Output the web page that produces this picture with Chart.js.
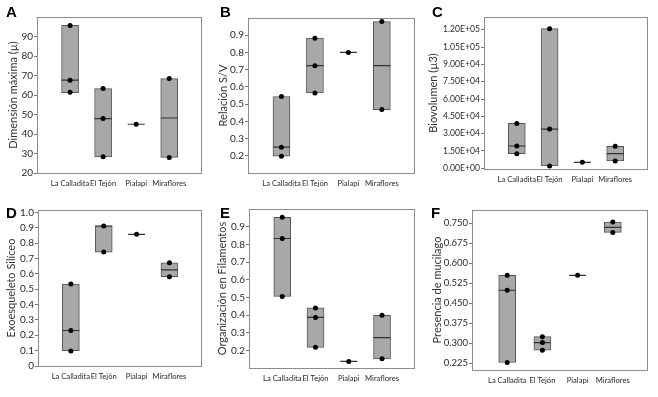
<!DOCTYPE html>
<html>
<head>
<meta charset="utf-8">
<script src="https://cdn.jsdelivr.net/npm/chart.js@4.4.1/dist/chart.umd.min.js"></script>
<style>
  html, body { margin: 0; padding: 0; background: #fff; }
  #wrap { position: relative; width: 658px; height: 397px; overflow: hidden; }
  .panel { position: absolute; }
</style>
</head>
<body>
<div id="wrap"></div>
<script>
const sites = ["La Calladita", "El Tejón", "Pialapi", "Miraflores"];

// A - Dimensión máxima
const dimMin = [61.2, 28.3, 45.0, 28.0];
const dimMed = [67.6, 47.9, 45.0, 48.2];
const dimMax = [95.7, 63.3, 45.0, 68.4];
const dimPts = [[95.7, 67.6, 61.4], [63.3, 47.9, 28.3], [45.0], [68.4, 27.9]];
const dimTicks = [20, 30, 40, 50, 60, 70, 80, 90];

// B - Relación S/V
const svMin = [0.197, 0.565, 0.800, 0.468];
const svMed = [0.250, 0.723, 0.800, 0.723];
const svMax = [0.544, 0.883, 0.800, 0.979];
const svPts = [[0.544, 0.250, 0.197], [0.883, 0.723, 0.565], [0.800], [0.979, 0.468]];
const svTicks = [0.2, 0.3, 0.4, 0.5, 0.6, 0.7, 0.8, 0.9];

// C - Biovolumen
const bioMin = [12700, 2000, 5200, 6300];
const bioMed = [19300, 34000, 5200, 12700];
const bioMax = [38900, 120900, 5200, 19000];
const bioPts = [[38900, 19300, 12700], [120900, 34000, 2000], [5200], [19000, 6300]];
const bioTicks = [0, 15000, 30000, 45000, 60000, 75000, 90000, 105000, 120000];

// D - Exoesqueleto Silíceo
const silMin = [0.099, 0.741, 0.857, 0.581];
const silMed = [0.231, 0.911, 0.857, 0.626];
const silMax = [0.533, 0.911, 0.857, 0.672];
const silPts = [[0.533, 0.231, 0.097], [0.911, 0.741], [0.857], [0.672, 0.581]];
const silTicks = [0, 0.1, 0.2, 0.3, 0.4, 0.5, 0.6, 0.7, 0.8, 0.9, 1.0];

// E - Organización en Filamentos
const filMin = [0.505, 0.217, 0.137, 0.152];
const filMed = [0.833, 0.386, 0.137, 0.272];
const filMax = [0.953, 0.440, 0.137, 0.398];
const filPts = [[0.953, 0.833, 0.505], [0.440, 0.386, 0.217], [0.137], [0.398, 0.152]];
const filTicks = [0.2, 0.3, 0.4, 0.5, 0.6, 0.7, 0.8, 0.9];

// F - Presencia de mucilago
const mucMin = [0.228, 0.274, 0.555, 0.716];
const mucMed = [0.499, 0.303, 0.555, 0.735];
const mucMax = [0.555, 0.325, 0.555, 0.755];
const mucPts = [[0.555, 0.499, 0.228], [0.325, 0.303, 0.274], [0.555], [0.755, 0.716]];
const mucTicks = [0.225, 0.300, 0.375, 0.450, 0.525, 0.600, 0.675, 0.750];

function sci(v) {
  if (v === 0) return "0.00E+00";
  const e = Math.floor(Math.log10(Math.abs(v)));
  return (v / Math.pow(10, e)).toFixed(2) + "E+" + String(e).padStart(2, "0");
}

Chart.defaults.font.family = "Lato, 'Liberation Sans', sans-serif";
Chart.defaults.color = "#2a2a2a";

const panels = [
  { letter: "A", title: "Dimensión máxima (µ)", min: dimMin, med: dimMed, max: dimMax, pts: dimPts,
    ticks: dimTicks, yMin: 20, yMax: 100, fmt: v => String(v), tickSize: 10,
    box: [0, 0, 212, 197], frame: [37, 17, 204, 173], lx: 6, ly: 17, tpad: 6.5 },
  { letter: "B", title: "Relación S/V", min: svMin, med: svMed, max: svMax, pts: svPts,
    ticks: svTicks, yMin: 0.1, yMax: 1.0, fmt: v => v.toFixed(1), tickSize: 10,
    box: [212, 0, 213, 197], frame: [248, 18, 417, 173], lx: 220, ly: 17, tpad: 4.5 },
  { letter: "C", title: "Biovolumen (µ3)", min: bioMin, med: bioMed, max: bioMax, pts: bioPts,
    ticks: bioTicks, yMin: -600, yMax: 131000, fmt: sci, tickSize: 8.6,
    box: [425, 0, 233, 197], frame: [484, 17, 648, 169], lx: 432, ly: 17, tpad: 1.5 },
  { letter: "D", title: "Exoesqueleto Silíceo", min: silMin, med: silMed, max: silMax, pts: silPts,
    ticks: silTicks, yMin: 0, yMax: 1.015, fmt: v => v === 0 ? "0" : v.toFixed(1), tickSize: 10,
    box: [0, 197, 212, 200], frame: [38, 210, 203, 366], lx: 6, ly: 218, tpad: 5 },
  { letter: "E", title: "Organización en Filamentos", min: filMin, med: filMed, max: filMax, pts: filPts,
    ticks: filTicks, yMin: 0.1, yMax: 1.0, fmt: v => v.toFixed(1), tickSize: 10,
    box: [212, 197, 213, 200], frame: [249, 209, 419, 368], lx: 220, ly: 218, tpad: 4 },
  { letter: "F", title: "Presencia de mucilago", min: mucMin, med: mucMed, max: mucMax, pts: mucPts,
    ticks: mucTicks, yMin: 0.2, yMax: 0.8, fmt: v => v.toFixed(3), tickSize: 9.5,
    box: [425, 197, 233, 200], frame: [472, 210, 648, 370], lx: 431, ly: 218, tpad: 5.5 }
];

const framePlugin = {
  id: "frame",
  beforeDatasetsDraw(chart) {
    const a = chart.chartArea, c = chart.ctx;
    c.save();
    c.strokeStyle = "#8c8c8c";
    c.lineWidth = 1;
    c.strokeRect(Math.round(a.left) + 0.5, Math.round(a.top) + 0.5,
      Math.round(a.right - a.left) - 1, Math.round(a.bottom - a.top));
    c.restore();
  },
  afterDraw(chart, args, opts) {
    const c = chart.ctx;
    c.save();
    c.font = "bold 15px 'Liberation Sans', Arial, sans-serif";
    c.fillStyle = "#000";
    c.textBaseline = "alphabetic";
    c.fillText(opts.letter, opts.x, opts.y);
    c.restore();
  }
};

const wrap = document.getElementById("wrap");
panels.forEach(p => {
  const [bx, by, bw, bh] = p.box;
  const [fl, ft, fr, fb] = p.frame;
  const div = document.createElement("div");
  div.className = "panel";
  div.style.left = bx + "px";
  div.style.top = by + "px";
  div.style.width = bw + "px";
  div.style.height = bh + "px";
  const cv = document.createElement("canvas");
  cv.width = bw; cv.height = bh;
  cv.style.width = bw + "px"; cv.style.height = bh + "px";
  div.appendChild(cv);
  wrap.appendChild(div);

  const labels = ["", ...sites, ""];
  const pad = v => [null, ...v, null];
  const points = [];
  p.pts.forEach((vals, i) => vals.forEach(v => points.push({ x: sites[i], y: v })));

  new Chart(cv, {
    type: "bar",
    data: {
      labels: labels,
      datasets: [
        {
          type: "line", data: points, order: 0, showLine: false,
          pointRadius: 2.5, pointBackgroundColor: "#000", pointBorderWidth: 0
        },
        {
          type: "line", data: pad(p.med), order: 1, showLine: false,
          pointStyle: "line", pointRadius: 8.5, pointBorderColor: "#333", pointBorderWidth: 1.2
        },
        {
          type: "bar", data: pad(p.min.map((m, i) => [m, p.max[i]])), order: 2,
          backgroundColor: "#a8a8a8", borderColor: "#555", borderWidth: 1,
          borderSkipped: false, barThickness: 17
        }
      ]
    },
    options: {
      responsive: false,
      animation: false,
      layout: { padding: { top: ft - by, right: bx + bw - fr, left: 0, bottom: 0 } },
      plugins: {
        legend: { display: false },
        tooltip: { enabled: false },
        frame: { letter: p.letter, x: p.lx - bx, y: p.ly - by }
      },
      scales: {
        x: {
          type: "category", offset: false,
          grid: { display: false, offset: false, drawTicks: false, tickLength: 0 },
          border: { display: false },
          ticks: { autoSkip: false, maxRotation: 0, minRotation: 0, padding: 6,
                   font: { size: 7.6 } },
          afterFit: s => { s.height = by + bh - fb; }
        },
        y: {
          min: p.yMin, max: p.yMax,
          grid: { drawOnChartArea: false, drawTicks: true, tickLength: 3, color: "#777" },
          border: { display: false },
          ticks: { padding: 1, font: { size: p.tickSize }, callback: v => p.fmt(v) },
          afterBuildTicks: s => { s.ticks = p.ticks.map(v => ({ value: v })); },
          title: { display: true, text: p.title, font: { size: 11 }, color: "#333",
                   padding: { top: p.tpad, bottom: 0 } },
          afterFit: s => { s.width = fl - bx; }
        }
      }
    },
    plugins: [framePlugin]
  });
});
</script>
</body>
</html>
